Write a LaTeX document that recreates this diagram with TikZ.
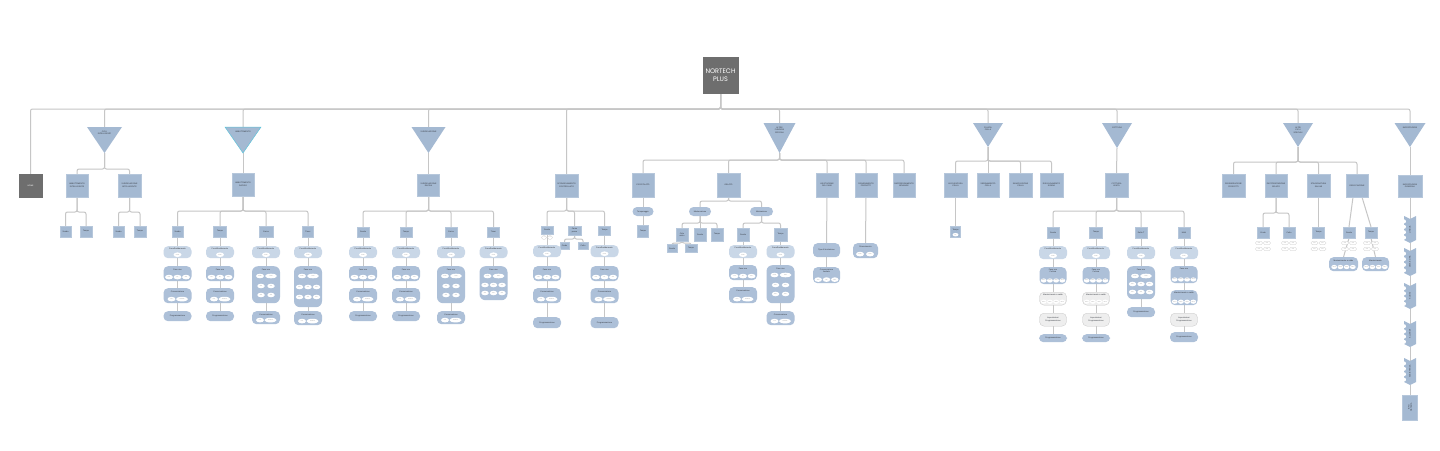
\documentclass[tikz,border=0pt]{standalone}
\usepackage{fontspec}
\setmainfont{Liberation Sans}
\newfontfamily\popp{Poppins}
\usetikzlibrary{calc,shapes.geometric}
\pgfdeclarelayer{bgw}
\pgfdeclarelayer{bg}
\pgfsetlayers{bgw,bg,main}
\definecolor{lnC}{HTML}{C6C6C6}
\definecolor{bluC}{HTML}{A4B9D2}
\definecolor{bluE}{HTML}{B6C7DB}
\definecolor{pillM}{HTML}{ADC0D8}
\definecolor{pillL}{HTML}{C9D7E7}
\definecolor{dgray}{HTML}{6E6E6E}
\definecolor{gpill}{HTML}{EEEEEE}
\definecolor{txtC}{HTML}{34383F}
\definecolor{tealC}{HTML}{5FC3DA}
\tikzset{
 ln/.style={draw=lnC, line width=1pt, rounded corners=2pt},
 bx/.style={rectangle, fill=bluC, draw=bluE, line width=0.3pt, inner sep=0pt, font=\fontsize{2}{2.4}\selectfont, text=txtC, align=center},
 dk/.style={bx, fill=dgray, draw=dgray, text=white},
 tn/.style={rectangle, inner sep=0pt, outer sep=0pt},
 lb/.style={font=\fontsize{2}{2.4}\selectfont, text=txtC, inner sep=0pt, align=center},
 pl/.style={rectangle, rounded corners=4.5pt, fill=pillM, inner sep=0pt, font=\fontsize{2}{2.4}\selectfont, text=txtC, align=center},
 pll/.style={pl, fill=pillL},
 plg/.style={pl, fill=gpill, draw=lnC, line width=0.3pt},
 el/.style={ellipse, fill=white, inner sep=0pt, minimum height=4.6pt, font=\fontsize{1.2}{1.4}\selectfont, text=gray},
 tp/.style={rectangle, rounded corners=1.5pt, fill=white, draw=lnC, line width=0.2pt, inner sep=0pt, minimum width=7pt, minimum height=3.4pt, font=\fontsize{1}{1.2}\selectfont, text=gray},
}
\newcommand\Bx[6]{\node[bx, minimum width=#4pt, minimum height=#5pt] (#1) at (#2,#3) {#6};}
\newcommand\Tri[6]{%
 \node[tn, minimum width=#4pt, minimum height=#5pt, anchor=north] (#1) at (#2,#3) {};
 \fill[bluC] (#1.north west) -- (#1.north east) -- (#1.south) -- cycle;
 \node[lb, anchor=north] (#1-t) at ([yshift=-4pt]#1.north) {#6};}
\newcommand\Dn[2]{\draw[ln] (#1.south) -- (#2.north);}
\newcommand\Br[3]{\draw[ln] (#1.south) |- (#3.north |- 0,#2) -- (#3.north);}
\newcommand\Chain[1]{\foreach \u/\v in {#1} {\draw[ln] (\u.south) -- (\v.north);}}
\newcommand\Prep[4][12]{%
 \node[pll, minimum width=28pt, minimum height=#1pt, anchor=north] (#2) at (#3,#4) {};
 \node[lb, anchor=north] (#2-l) at ([yshift=-2pt]#2.north) {Preraffreddamento};
 \node[el, minimum width=8pt, anchor=south] (#2-e) at ([yshift=1.2pt]#2.south) {Crudo};}
\newcommand\Fase[3]{%
 \node[pl, minimum width=28pt, minimum height=15pt, anchor=north] (#1) at (#2,#3) {};
 \node[lb, anchor=north] (#1-l) at ([yshift=-2.5pt]#1.north) {Fase uno};
 \node[el, minimum width=8pt] (#1-a) at ($(#1.south)+(-8.5,-4.3)$) {+3°C};
 \node[el, minimum width=8pt] (#1-b) at ($(#1.south)+(0,-4.3)$) {90'};
 \node[el, minimum width=8pt] (#1-c) at ($(#1.south)+(8.5,-4.3)$) {Soft};}
\newcommand\Cons[4]{%
 \node[pl, minimum width=28pt, minimum height=#4pt, anchor=north] (#1) at (#2,#3) {};
 \node[lb, anchor=north] (#1-l) at ([yshift=-2.5pt]#1.north) {Conservazione};
 \node[el, minimum width=8pt] (#1-a) at ($(#1.south)+(-6,-4.3)$) {+2°C};
 \node[el, minimum width=12pt] (#1-b) at ($(#1.south)+(4.5,-4.3)$) {Continua};}
\newcommand\Prog[4]{\node[pl, minimum width=28pt, minimum height=#4pt, anchor=north] (#1) at (#2,#3) {Programmazione};}
\newcommand\BigT[4]{%
 \node[pl, rounded corners=6pt, minimum width=28pt, minimum height=#4pt, anchor=north] (#1) at (#2,#3) {};
 \node[lb, anchor=north] (#1-l) at ([yshift=-2.5pt]#1.north) {Fase uno};
 \node[el, minimum width=8pt] (#1-a) at ($(#1.north)+(-6,10)$) {Crudo};
 \node[el, minimum width=12pt] (#1-b) at ($(#1.north)+(5,10)$) {Cotto};}
\newcommand\Grid[4]{\foreach \o [count=\i] in {#4} {\node[el, minimum width=7.5pt] (#1-\i) at (#2+\o,#3) {Soft};}}
\newcommand\Four[3]{\foreach \o [count=\i] in {-9.3,-3.1,3.1,9.3} {\node[el, minimum width=5.8pt, minimum height=4.2pt] (#1-\i) at (#2+\o,#3) {+65°C};}}
\newcommand\FaseT[5]{%
 \node[pl, minimum width=27pt, minimum height=#4pt, anchor=north] (#1) at (#2,#3) {};
 \node[lb, anchor=north] (#1-l) at ([yshift=-2pt]#1.north) {#5};
 \Four{#1}{#2}{#3+#4-3.5}}
\newcommand\Mant[5]{%
 \node[#5, minimum width=27pt, minimum height=#4pt, anchor=north] (#1) at (#2,#3) {};
 \node[lb, anchor=north] (#1-l) at ([yshift=-2pt]#1.north) {Mantenimento a caldo};
 \Four{#1}{#2}{#3+#4-3.3}}
\newcommand\Imp[3]{\node[plg, minimum width=27pt, minimum height=13pt, anchor=north] (#1) at (#2,#3) {Impostazioni\\Programmazione};}
\newcommand\Tiny[3]{\foreach \dx/\dy [count=\i] in {-4/0,4/0,-4/6,4/6} {\node[tp] (#1-\i) at (#2+\dx,#3+\dy) {00:00};}}
\newcommand\Chev[4]{%
 \node[tn, minimum width=12pt, minimum height=#3pt, anchor=north] (#1) at (1410,#2) {};
 \fill[bluC] (#1.north west) -- ([yshift=-3pt]#1.north) -- (#1.north east) -- ([yshift=3pt]#1.south east) -- (#1.south) -- ([yshift=3pt]#1.south west) -- cycle;
 \node[lb, rotate=90] (#1-t) at (#1.center) {#4};
 \foreach \q in {1,...,4} {\node[circle, fill=white, inner sep=0pt, minimum size=4pt] (#1-c\q) at ($(#1.north west)+(0,#3*\q/5)$) {};}}
\begin{document}
\begin{tikzpicture}[x=1pt,y=-1pt]
\begin{pgfonlayer}{bgw}
\fill[white] (0,0) rectangle (1440,450);
\end{pgfonlayer}
\useasboundingbox (0,0) rectangle (1440,450);
% root and level 1
\node[bx, fill=dgray, draw=dgray, minimum width=35pt, minimum height=36pt, font=\popp\fontsize{6.5}{8.5}\selectfont, text=white] (root) at (720.5,75) {NORTECH\\PLUS};
\node[dk, minimum width=23pt, minimum height=23pt] (home) at (30.5,185.5) {HOME};
\Tri{t1}{104.5}{127}{35}{26}{CICLI\\INTELLIGENTI}
\Tri{t2}{243}{127}{36}{26}{ABBATTIMENTO}
\draw[tealC, line width=0.5pt] (t2.north west) -- (t2.north east) -- (t2.south) -- cycle;
\Tri{t3}{428.5}{127}{34}{26}{SURGELAZIONE}
\Bx{s5}{566.5}{185.5}{23}{23}{SCONGELAMENTO\\CONTROLLATO}
\Tri{t6}{779.5}{123}{32}{30}{ALTRE\\FUNZIONI\\SPECIALI}
\Tri{t7}{988}{123}{30}{24}{PULIZIA\\CELLA}
\Tri{t8}{1117}{123}{30}{25}{COTTURA}
\Tri{t9}{1298}{123}{30}{24}{ALTRI\\CICLI\\SPECIALI}
\Tri{t10}{1410}{123}{31}{24}{IMPOSTAZIONI}
% section 1
\Bx{a1}{77}{185.5}{22}{23}{ABBATTIMENTO\\INTELLIGENTE}
\Bx{a2}{129.5}{185.5}{23}{23}{SURGELAZIONE\\INTELLIGENTE}
\Bx{a1s}{65.5}{231.5}{11}{11}{Sonda}
\Bx{a1t}{86}{231.5}{12}{11}{Tempo}
\Bx{a2s}{118.5}{231.5}{11}{11}{Sonda}
\Bx{a2t}{140}{231.5}{12}{11}{Tempo}
% section 2
\Bx{b}{243}{184.5}{22}{23}{ABBATTIMENTO\\RAPIDO}
\Bx{b1}{177.5}{231.5}{11}{11}{Sonda}
\Bx{b2}{220}{231.5}{13}{11}{Tempo}
\Bx{b3}{266}{231.5}{14}{11}{Carico}
\Bx{b4}{308}{231.5}{11}{11}{Timer}
\Prep{b1p}{177.5}{246} \Fase{b1f}{177.5}{266} \Cons{b1c}{177.5}{288}{15} \Prog{b1g}{177.5}{311}{10}
\Prep{b2p}{220}{246} \Fase{b2f}{220}{266} \Cons{b2c}{220}{288}{15} \Prog{b2g}{220}{311}{10}
\Prep{b3p}{266}{246} \BigT{b3f}{266}{266}{37} \Grid{b3r}{266}{286}{-5,5} \Grid{b3s}{266}{295}{-5,5} \Cons{b3c}{266}{311}{13}
\Prep{b4p}{308}{246} \BigT{b4f}{308}{266}{41} \Grid{b4r}{308}{287}{-8.5,0,8.5} \Grid{b4s}{308}{297}{-8.5,0,8.5} \Cons{b4c}{308}{311}{14}
% section 3
\Bx{c}{428.5}{185}{22}{22}{SURGELAZIONE\\RAPIDA}
\Bx{c1}{363}{232}{12}{10}{Sonda}
\Bx{c2}{406}{232}{12}{10}{Tempo}
\Bx{c3}{451}{232}{12}{10}{Carico}
\Bx{c4}{493.5}{232}{12}{10}{Timer}
\Prep{c1p}{363}{246} \Fase{c1f}{363}{266} \Cons{c1c}{363}{288}{15} \Prog{c1g}{363}{311}{10}
\Prep{c2p}{406}{246} \Fase{c2f}{406}{266} \Cons{c2c}{406}{288}{15} \Prog{c2g}{406}{311}{10}
\Prep{c3p}{451}{246} \BigT{c3f}{451}{266}{37} \Grid{c3r}{451}{286}{-5,5} \Grid{c3s}{451}{295}{-5,5} \Cons{c3c}{451}{311}{13}
\Prep{c4p}{493.5}{246} \BigT{c4f}{493.5}{266}{34} \Grid{c4r}{493.5}{285}{-8.5,0,8.5} \Grid{c4s}{493.5}{293}{-8.5,0,8.5}
% section 5
\Bx{d1}{547}{230}{12}{8}{Sonda}
\node[tp, minimum width=5pt] (d1-a) at (544,237.5) {+3};
\node[tp, minimum width=5pt] (d1-b) at (550,237.5) {-18};
\Bx{d2}{574.5}{230.5}{13}{9}{Carne\\pesce}
\Bx{d2a}{564.5}{245.5}{9}{7}{Crudo}
\Bx{d2b}{583}{245.5}{10}{7}{Cotto}
\Bx{d3}{604.5}{230.5}{12}{9}{Tempo}
\Prep{d1p}{547}{245} \Fase{d1f}{547}{266} \Cons{d1c}{547}{288}{15} \Prog{d1g}{547}{317}{11}
\Prep{d3p}{604.5}{245} \Fase{d3f}{604.5}{266} \Cons{d3c}{604.5}{288}{15} \Prog{d3g}{604.5}{317}{11}
% section 6
\Bx{eA}{643}{185}{22}{24}{CIOCCOLATO}
\Bx{eB}{728.5}{185}{23}{24}{GELATO}
\Bx{eC}{827}{185}{22}{24}{LIEVITAZIONE\\DEL PANE}
\Bx{eD}{866}{185}{22}{24}{RINVENIMENTO\\PRODOTTI}
\Bx{eE}{904}{185}{22}{24}{RAFFREDDAMENTO\\BEVANDE}
\node[pl, minimum width=21pt, minimum height=9pt] (eAp) at (643,211.5) {Temperaggio};
\Bx{eAs}{643}{231}{11}{12}{Tempo}
\node[pl, minimum width=22pt, minimum height=9pt] (eB1) at (700,211.5) {Mantecazione};
\node[pl, minimum width=23pt, minimum height=9pt] (eB2) at (761.5,211.5) {Maturazione};
\Bx{eB1a}{682}{234.5}{12}{13}{Ciclo\\misto}
\Bx{eB1b}{700}{234.5}{12}{13}{Sonda}
\Bx{eB1c}{717}{234.5}{12}{13}{Tempo}
\Bx{eB1x}{672}{248.5}{10}{8}{Sonda}
\Bx{eB1y}{691}{248.5}{12}{8}{Tempo}
\Bx{eB2a}{743}{234.5}{12}{13}{Sonda}
\Bx{eB2b}{780.5}{234.5}{13}{13}{Tempo}
\Prep[13]{eB2ap}{743}{245} \Fase{eB2af}{743}{265} \Cons{eB2ac}{743}{287}{16}
\Prep[13]{eB2bp}{780.5}{245} \BigT{eB2bf}{780.5}{265}{38} \Grid{eB2br}{780.5}{285}{-5,5} \Grid{eB2bs}{780.5}{294}{-5,5} \Cons{eB2bc}{780.5}{311}{14}
\node[pl, minimum width=27pt, minimum height=14pt, anchor=north] (eCp) at (826.5,243) {Tipo di lievitazione};
\node[pl, minimum width=27pt, minimum height=16pt, anchor=north] (eCq) at (826.5,267) {};
\node[lb, anchor=north] (eCq-l) at ([yshift=-1.8pt]eCq.north) {Conservazione\\lievitato};
\node[el, minimum width=7.5pt] (eCq-a) at ($(eCq.south)+(-8.3,-3.8)$) {+4°C};
\node[el, minimum width=7.5pt] (eCq-b) at ($(eCq.south)+(0,-3.8)$) {12h};
\node[el, minimum width=7.5pt] (eCq-c) at ($(eCq.south)+(8.3,-3.8)$) {80\%};
\node[pl, minimum width=25pt, minimum height=15pt, anchor=north] (eDp) at (865.5,243) {};
\node[lb, anchor=north] (eDp-l) at ([yshift=-2.5pt]eDp.north) {Rinvenimento};
\node[el, minimum width=8pt] (eDp-a) at ($(eDp.south)+(-5.5,-4.3)$) {Crudo};
\node[el, minimum width=8pt] (eDp-b) at ($(eDp.south)+(4.5,-4.3)$) {Cotto};
% section 7
\Bx{f1}{955.5}{185}{23}{24}{ASCIUGATURA\\CELLA}
\Bx{f2}{988}{185}{22}{24}{SBRINAMENTO\\CELLA}
\Bx{f3}{1020.5}{185}{23}{24}{SANIFICAZIONE\\CELLA}
\Bx{f4}{1051.5}{185}{23}{24}{RISCALDAMENTO\\SONDA}
\node[bx, minimum width=10pt, minimum height=11pt, anchor=north] (f1s) at (955.5,226) {};
\node[lb, anchor=north] (f1s-l) at ([yshift=-2.5pt]f1s.north) {Tempo};
\node[el, minimum width=6pt, minimum height=3.5pt] (f1s-e) at ($(f1s.south)+(0,-2.6)$) {30'};
% section 8
\Bx{g}{1116.5}{185}{23}{24}{COTTURA\\LENTA}
\Bx{g1}{1053}{232.5}{12}{11}{Sonda}
\Bx{g2}{1096}{232.5}{13}{11}{Tempo}
\Bx{g3}{1141}{232.5}{12}{11}{Delta T}
\Bx{g4}{1184}{232.5}{12}{11}{Multi}
\Prep[13]{g1p}{1053}{246} \FaseT{g1f}{1053}{267}{17}{Fase uno\\Cottura} \Mant{g1m}{1053}{292}{13}{plg} \Imp{g1i}{1053}{313} \Prog{g1g}{1053}{334}{8}
\Prep[13]{g2p}{1096}{246} \FaseT{g2f}{1096}{267}{17}{Fase uno\\Cottura} \Mant{g2m}{1096}{292}{13}{plg} \Imp{g2i}{1096}{313} \Prog{g2g}{1096}{334}{8}
\Prep[13]{g3p}{1141}{246} \BigT{g3f}{1141}{266}{33} \Grid{g3r}{1141}{284}{-8.5,0,8.5} \Grid{g3s}{1141}{292}{-8.5,0,8.5} \Prog{g3g}{1141}{307}{10}
\Prep[13]{g4p}{1184}{246} \FaseT{g4f}{1184}{266}{17}{Fase uno} \Mant{g4m}{1184}{290}{15}{pl} \Imp{g4i}{1184}{313} \Prog{g4g}{1184}{332}{10}
% section 9
\Bx{h1}{1233.5}{185.5}{23}{23}{RIGENERAZIONE\\PRODOTTI}
\Bx{h2}{1276}{185.5}{22}{23}{PASTORIZZAZIONE\\GELATO}
\Bx{h3}{1318.5}{185.5}{23}{23}{STAGIONATURA\\SALUMI}
\Bx{h4}{1357}{185.5}{22}{23}{ESSICCAZIONE}
\Bx{h2a}{1263}{232.5}{12}{11}{Crudo}
\Bx{h2b}{1289}{232.5}{12}{11}{Cotto}
\Bx{h3a}{1318.5}{232.5}{12}{11}{Tempo}
\Bx{h4a}{1349}{232.5}{12}{11}{Sonda}
\Bx{h4b}{1371}{232.5}{12}{11}{Tempo}
\Tiny{h2at}{1263}{243} \Tiny{h2bt}{1289}{243} \Tiny{h3at}{1318.5}{243} \Tiny{h4at}{1349}{243} \Tiny{h4bt}{1371}{243}
\node[pl, minimum width=29pt, minimum height=14pt, anchor=north] (h4ap) at (1343.5,257) {};
\node[lb, anchor=north] (h4ap-l) at ([yshift=-2.5pt]h4ap.north) {Mantenimento a caldo};
\Four{h4ap}{1343.5}{267}
\node[pl, minimum width=27pt, minimum height=14pt, anchor=north] (h4bp) at (1375.5,257) {};
\node[lb, anchor=north] (h4bp-l) at ([yshift=-2.5pt]h4bp.north) {Mantenimento};
\Four{h4bp}{1375.5}{267}
% section 10
\Bx{k}{1410}{186}{24}{22}{IMPOSTAZIONI\\GENERALI}
\Chev{k1}{216}{27}{LINGUA}
\Chev{k2}{248}{28}{DATA E ORA}
\Chev{k3}{283}{26}{SUONI}
\Chev{k4}{321}{26}{ALLARMI}
\Chev{k5}{358}{27}{ASSISTENZA}
\node[bx, minimum width=15pt, minimum height=25pt] (kf) at (1410,407.5) {};
\node[lb, rotate=90] (kf-t) at (kf.center) {INFO\\SISTEMA};
% connectors
\begin{pgfonlayer}{bg}
\foreach \c in {home,t1,t2,t3,s5,t6,t7,t8,t9,t10} {\draw[ln] (root.south) |- (\c.north |- 0,109) -- (\c.north);}
\Br{t1}{169}{a1} \Br{t1}{169}{a2}
\Br{a1}{212}{a1s} \Br{a1}{212}{a1t} \Br{a2}{212}{a2s} \Br{a2}{212}{a2t}
\Dn{t2}{b}
\foreach \c in {b1,b2,b3,b4} {\Br{b}{211}{\c}}
\Chain{b1/b1p,b1p/b1f,b1f/b1c,b1c/b1g,b2/b2p,b2p/b2f,b2f/b2c,b2c/b2g,b3/b3p,b3p/b3f,b3f/b3c,b4/b4p,b4p/b4f,b4f/b4c}
\Dn{t3}{c}
\foreach \c in {c1,c2,c3,c4} {\Br{c}{211}{\c}}
\Chain{c1/c1p,c1p/c1f,c1f/c1c,c1c/c1g,c2/c2p,c2p/c2f,c2f/c2c,c2c/c2g,c3/c3p,c3p/c3f,c3f/c3c,c4/c4p,c4p/c4f}
\foreach \c in {d1,d2,d3} {\Br{s5}{211}{\c}}
\Br{d2}{239}{d2a} \Br{d2}{239}{d2b}
\Chain{d1/d1p,d1p/d1f,d1f/d1c,d1c/d1g,d3/d3p,d3p/d3f,d3f/d3c,d3c/d3g}
\foreach \c in {eA,eB,eC,eD,eE} {\Br{t6}{160}{\c}}
\Chain{eA/eAp,eAp/eAs}
\Br{eB}{201}{eB1} \Br{eB}{201}{eB2}
\Br{eB1}{223}{eB1a} \Dn{eB1}{eB1b} \Br{eB1}{223}{eB1c}
\Br{eB1a}{243}{eB1x} \Br{eB1a}{243}{eB1y}
\Br{eB2}{223}{eB2a} \Br{eB2}{223}{eB2b}
\Chain{eB2a/eB2ap,eB2ap/eB2af,eB2af/eB2ac,eB2b/eB2bp,eB2bp/eB2bf,eB2bf/eB2bc,eC/eCp,eCp/eCq,eD/eDp}
\Br{t7}{161}{f1} \Dn{t7}{f2} \Br{t7}{161}{f3} \Br{t7}{161}{f4}
\Dn{f1}{f1s}
\Dn{t8}{g}
\foreach \c in {g1,g2,g3,g4} {\Br{g}{211}{\c}}
\Chain{g1/g1p,g1p/g1f,g1f/g1m,g1m/g1i,g1i/g1g,g2/g2p,g2p/g2f,g2f/g2m,g2m/g2i,g2i/g2g,g3/g3p,g3p/g3f,g3f/g3g,g4/g4p,g4p/g4f,g4f/g4m,g4m/g4i,g4i/g4g}
\foreach \c in {h1,h2,h3,h4} {\Br{t9}{162}{\c}}
\Br{h2}{213}{h2a} \Br{h2}{213}{h2b}
\Dn{h3}{h3a}
\draw[ln] ([xshift=-4pt]h4.south) -- (h4a.north);
\draw[ln] ([xshift=5pt]h4.south) -- (h4b.north);
\Dn{h4a}{h4ap} \Dn{h4b}{h4bp}
\Dn{t10}{k}
\foreach \u/\v in {k/k1,k1/k2,k2/k3,k3/k4,k4/k5,k5/kf} {\draw[ln] (\u.south) -- (\v.center);}
\end{pgfonlayer}
\end{tikzpicture}
\end{document}
